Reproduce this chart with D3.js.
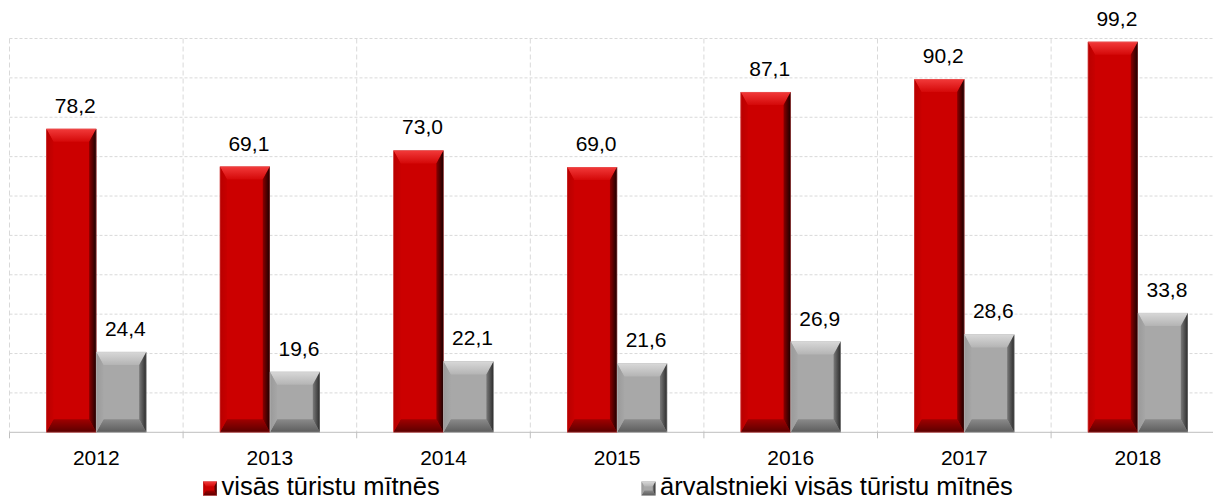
<!DOCTYPE html>
<html>
<head>
<meta charset="utf-8">
<script src="https://cdn.jsdelivr.net/npm/d3@7"></script>
<style>
  html, body { margin: 0; padding: 0; background: #ffffff; }
  svg { display: block; font-family: "Liberation Sans", Arial, sans-serif; }
</style>
</head>
<body>
<svg id="chart" width="1213" height="501"></svg>
<script>
// ---- data ----
const years = ["2012", "2013", "2014", "2015", "2016", "2017", "2018"];
const seriesNames = ["visās tūristu mītnēs", "ārvalstnieki visās tūristu mītnēs"];
const visas = [78.2, 69.1, 73.0, 69.0, 87.1, 90.2, 99.2];
const arvalstnieki = [24.4, 19.6, 22.1, 21.6, 26.9, 28.6, 33.8];
const yMin = 5, yMax = 100, yStep = 9.5;

(function () {
// ---- layout ----
const svg = d3.select("#chart");
const plotLeft = 9.5, bandW = 173.6, plotTop = 38.5, plotBottom = 432.3;

const x = d3.scaleBand().domain(years).range([plotLeft, plotLeft + bandW * years.length]).padding(0);
const xs = d3.scaleBand().domain([0, 1]).range([0, bandW]).paddingInner(0).paddingOuter(0.735);
const y = d3.scaleLinear().domain([yMin, yMax]).range([plotBottom, plotTop]);

const defs = svg.append("defs");
function lg(id, stops, x1, y1, x2, y2) {
  const g = defs.append("linearGradient").attr("id", id)
    .attr("x1", x1).attr("y1", y1).attr("x2", x2).attr("y2", y2);
  stops.forEach(s => g.append("stop").attr("offset", s[0]).attr("stop-color", s[1]));
}
const palettes = [
  { face: "#cc0000", top: [["0%", "#f23a3a"], ["100%", "#d40808"]], left: [["0%", "#b80000"], ["100%", "#c80000"]],
    right: [["0%", "#8a0000"], ["100%", "#1a0000"]], bottom: [["0%", "#a00000"], ["100%", "#5a0000"]], edge: "#e07a7a" },
  { face: "#a8a8a8", top: [["0%", "#d8d8d8"], ["100%", "#b4b4b4"]], left: [["0%", "#9a9a9a"], ["100%", "#a6a6a6"]],
    right: [["0%", "#7a7a7a"], ["100%", "#2a2a2a"]], bottom: [["0%", "#8a8a8a"], ["100%", "#5c5c5c"]], edge: "#c8c8c8" }
];
palettes.forEach((p, i) => {
  lg("top" + i, p.top, 0, 0, 0, 1);
  lg("bot" + i, p.bottom, 0, 0, 0, 1);
  lg("lft" + i, p.left, 0, 0, 1, 0);
  lg("rgt" + i, p.right, 0, 0, 1, 0);
});

// ---- grid ----
const grid = svg.append("g");
grid.selectAll("line.h").data(d3.range(yMin + yStep, yMax + 0.001, yStep)).join("line")
  .attr("x1", plotLeft).attr("x2", 1213)
  .attr("y1", d => y(d)).attr("y2", d => y(d))
  .attr("stroke", "#d9d9d9").attr("stroke-width", 1).attr("stroke-dasharray", "3,2");
const bounds = years.map(d => x(d));
grid.selectAll("line.v").data(bounds).join("line")
  .attr("x1", d => d).attr("x2", d => d)
  .attr("y1", plotTop).attr("y2", plotBottom)
  .attr("stroke", "#d9d9d9").attr("stroke-width", 1).attr("stroke-dasharray", "5,3");

// ---- axis ----
const xAxis = d3.axisBottom(x).tickSize(0).tickPadding(18);
const ax = svg.append("g").attr("transform", `translate(0,${plotBottom})`).call(xAxis);
ax.select(".domain").attr("stroke", "#bfbfbf").attr("d", `M${plotLeft},0H1213`);
ax.selectAll("text").attr("font-size", 21).attr("fill", "#000").attr("font-family", "Liberation Sans, Arial, sans-serif");
ax.selectAll("line.sep").data(bounds).join("line").attr("class", "sep")
  .attr("x1", d => d).attr("x2", d => d).attr("y1", 0).attr("y2", 6)
  .attr("stroke", "#bfbfbf");

// ---- bevelled bar ----
function bevelBar(g, x0, y0, w, h, i, b) {
  const p = palettes[i];
  const x1 = x0 + w, y1 = y0 + h;
  const bb = Math.min(b, w / 2, h / 2);
  g.append("rect").attr("x", x0).attr("y", y0).attr("width", w).attr("height", h).attr("fill", p.face);
  const poly = (pts, fill) => g.append("polygon").attr("points", pts.map(q => q.join(",")).join(" ")).attr("fill", fill);
  const bs = Math.min(bb * 0.55, w / 2);
  poly([[x0, y0], [x1, y0], [x1 - bs, y0 + bb], [x0 + bs, y0 + bb]], `url(#top${i})`);
  poly([[x0, y1], [x1, y1], [x1 - bs, y1 - bb], [x0 + bs, y1 - bb]], `url(#bot${i})`);
  poly([[x0, y0], [x0 + bs, y0 + bb], [x0 + bs, y1 - bb], [x0, y1]], `url(#lft${i})`);
  poly([[x1, y0], [x1 - bs, y0 + bb], [x1 - bs, y1 - bb], [x1, y1]], `url(#rgt${i})`);
  g.append("rect").attr("x", x0 + 0.25).attr("y", y0 + 0.25).attr("width", w - 0.5).attr("height", h - 0.5)
    .attr("fill", "none").attr("stroke", p.edge).attr("stroke-width", 0.5).attr("opacity", 0.6);
}

const fmt = v => d3.format(".1f")(v).replace(".", ",");
const seriesVals = [visas, arvalstnieki];
const barsG = svg.append("g");
years.forEach((yr, k) => {
  seriesVals.forEach((vals, i) => {
    const v = vals[k];
    const bx = x(yr) + xs(i);
    const bw = xs.bandwidth();
    const g = barsG.append("g");
    bevelBar(g, bx, y(v), bw, plotBottom - y(v), i, 13);
    g.append("text").attr("x", bx + bw / 2 + 4).attr("y", y(v) - 16)
      .attr("text-anchor", "middle").attr("font-size", 21).attr("fill", "#000")
      .text(fmt(v));
  });
});

// ---- legend ----
const legendX = [203, 641.5];
const leg = svg.append("g");
seriesNames.forEach((name, i) => {
  const g = leg.append("g");
  bevelBar(g, legendX[i], 481.5, 14, 14, i, 5);
  g.append("text").attr("x", legendX[i] + 18.5).attr("y", 494.5)
    .attr("font-size", 25.5).attr("fill", "#000").text(name);
});
})();
</script>
</body>
</html>
